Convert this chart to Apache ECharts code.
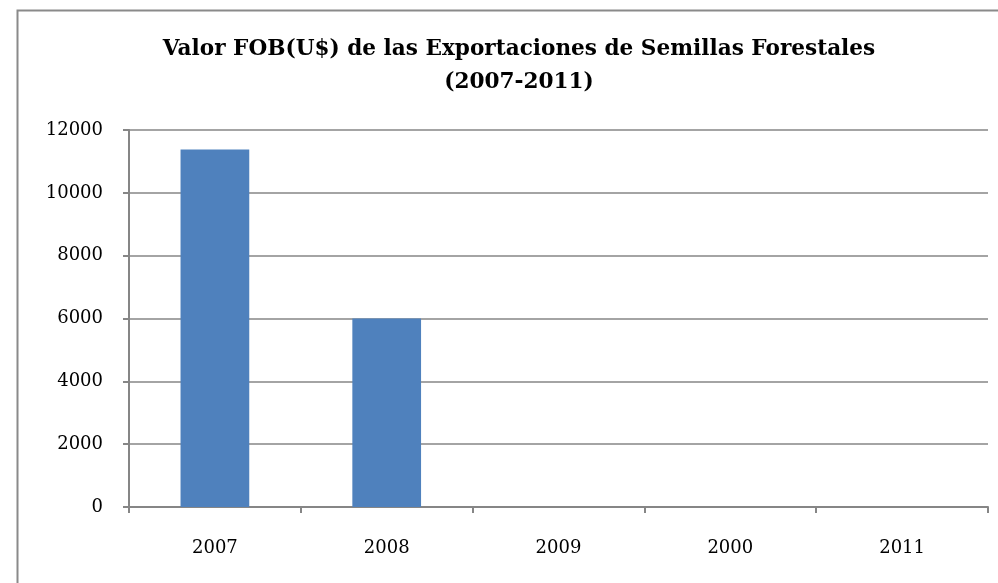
<!DOCTYPE html>
<html><head><meta charset="utf-8">
<script src="https://cdn.jsdelivr.net/npm/echarts@6/dist/echarts.min.js"></script>
<style>html,body{margin:0;padding:0;background:#fff}#c{width:998px;height:583px}</style>
</head><body><div id="c"></div>
<script>
const categories = ['2007', '2008', '2009', '2000', '2011'];
const values = [11380, 6000, 0, 0, 0];
const titleLines = ['Valor FOB(U$) de las Exportaciones de Semillas Forestales', '(2007-2011)'];
const yMin = 0, yMax = 12000, yStep = 2000;

const chart = echarts.init(document.getElementById('c'));
const serif = '"DejaVu Serif", "Liberation Serif", serif';
chart.setOption({
  animation: false,
  backgroundColor: '#fff',
  graphic: [{
    type: 'rect', left: 15, top: 8,
    shape: { width: 1100, height: 700 },
    style: { fill: 'none', stroke: '#8a8a8a', lineWidth: 2 }
  }],
  title: {
    text: titleLines.join('\n'),
    left: 514, top: 28,
    textAlign: 'center',
    textStyle: { fontFamily: serif, fontWeight: 'bold', fontSize: 21.6, color: '#000', lineHeight: 33 }
  },
  grid: { left: 129, right: 10, top: 130, bottom: 76 },
  xAxis: {
    type: 'category', data: categories,
    axisLine: { lineStyle: { color: '#868686', width: 2 } },
    axisTick: { show: true, length: 6, lineStyle: { color: '#868686', width: 2 } },
    axisLabel: { fontFamily: serif, fontSize: 18, color: '#000', margin: 32 }
  },
  yAxis: {
    type: 'value', min: yMin, max: yMax, interval: yStep,
    axisLine: { show: true, lineStyle: { color: '#868686', width: 2 } },
    axisTick: { show: true, length: 6, lineStyle: { color: '#868686', width: 2 } },
    splitLine: { lineStyle: { color: '#868686', width: 1.5 } },
    axisLabel: { fontFamily: serif, fontSize: 18, color: '#000', margin: 26, formatter: v => String(v) }
  },
  series: [{
    type: 'bar', data: values, barWidth: '40%',
    itemStyle: { color: '#4F81BD' }
  }]
});
</script></body></html>
